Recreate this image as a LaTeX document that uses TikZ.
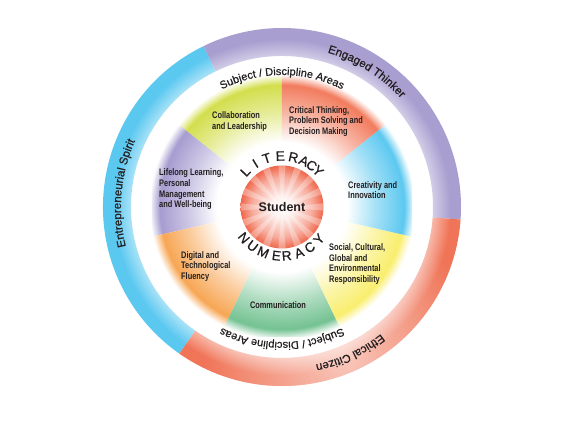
\documentclass[tikz,border=0pt]{standalone}
\usepackage{fontspec}
\setmainfont{Liberation Sans}
\newfontfamily\narrowfont[FakeStretch=0.78]{Liberation Sans}
\newfontfamily\medfont[FakeBold=0.7]{Liberation Sans}
\usetikzlibrary{decorations.text,fadings}

\definecolor{textdark}{HTML}{231F20}
\definecolor{ringblue}{HTML}{5BC8F0}
\definecolor{ringpurple}{HTML}{A89ED0}
\definecolor{ringred}{HTML}{F07558}
\definecolor{wedgelime}{HTML}{D3DE4C}
\definecolor{wedgesalmon}{HTML}{F27C5E}
\definecolor{wedgesky}{HTML}{5CC8F0}
\definecolor{wedgeyellow}{HTML}{F9EE6E}
\definecolor{wedgegreen}{HTML}{74C292}
\definecolor{wedgeorange}{HTML}{F7A654}
\definecolor{wedgelavender}{HTML}{A69CD0}
\definecolor{studentred}{HTML}{EE5A3C}

\colorlet{wedgecol}{white}
\colorlet{ringcol}{white}
% half the box of a shaded path is 25bp
\pgfdeclareradialshading[wedgecol]{wedgefade}{\pgfpoint{0bp}{0bp}}{%
  color(0bp)=(white); color(12.5bp)=(white); color(18bp)=(wedgecol!55!white);
  color(23.5bp)=(wedgecol); color(25.5bp)=(white); color(50bp)=(white)}
\pgfdeclareradialshading[ringcol]{ringfade}{\pgfpoint{0bp}{0bp}}{%
  color(0bp)=(white); color(21bp)=(ringcol!50!white); color(23.5bp)=(ringcol);
  color(25bp)=(ringcol); color(50bp)=(ringcol)}
\pgfdeclareradialshading{studentfade}{\pgfpoint{0bp}{0bp}}{%
  color(0bp)=(white); color(7bp)=(studentred!10!white);
  color(18bp)=(studentred!50!white); color(25bp)=(studentred!92!white);
  color(50bp)=(studentred)}
\tikzfading[name=softspot, inner color=transparent!0, outer color=transparent!100]

\newcommand\subjfont{\medfont\fontsize{11}{11}\selectfont\color{textdark}}
\newcommand\ringfont{\medfont\fontsize{11.5}{11.5}\selectfont\color{textdark}}

\begin{document}
\begin{tikzpicture}[x=1pt,y=1pt,
    sectorlabel/.style={font=\narrowfont\bfseries\fontsize{9.5}{10.7}\selectfont,
      text=textdark, align=left, anchor=west, inner sep=0pt},
    circletext/.style={font=\medfont\fontsize{13.5}{13.5}\selectfont, text=textdark, inner sep=0pt}]
  \useasboundingbox (-282,-220) rectangle (280,207);
  \fill[white] (-282,-220) rectangle (280,207);

  % Outer ring
  \foreach \col/\from/\to in {ringblue/116/235, ringpurple/-4/116, ringred/235/356} {
    \colorlet{ringcol}{\col}
    \begin{scope}
      \clip (\from:179) arc[start angle=\from, end angle=\to, radius=179]
        -- (\to:151) arc[start angle=\to, end angle=\from, radius=151] -- cycle;
      \shade[shading=ringfade] (-179,-179) rectangle (179,179);
    \end{scope}
  }
  % lighter part of the red ring
  \begin{scope}
    \clip (235:179) arc[start angle=235, end angle=356, radius=179]
      -- (356:151) arc[start angle=356, end angle=235, radius=151] -- cycle;
    \fill[white, opacity=.6, path fading=softspot] (-68:165) circle (140);
  \end{scope}

  % Coloured wedges
  \foreach \col/\from in {wedgelime/90, wedgelavender/141.43, wedgeorange/192.86,
      wedgegreen/244.29, wedgeyellow/295.71, wedgesky/347.14, wedgesalmon/38.57} {
    \colorlet{wedgecol}{\col}
    \begin{scope}
      \clip (0,0) -- (\from:140) arc[start angle=\from, delta angle=51.43, radius=140] -- cycle;
      \shade[shading=wedgefade] (-130,-130) rectangle (130,130);
    \end{scope}
  }
  \fill[white] (0,0) circle (58);

  % Student
  \shade[shading=studentfade] (0,0) circle (41.5);
  \foreach \a in {0,22.5,...,337.5}
    \fill[white, opacity=.3] (0,0) -- (\a-5:41.5)
      arc[start angle=\a-5, end angle=\a+5, radius=41.5] -- cycle;
  \node[font=\bfseries\fontsize{12.5}{12.5}\selectfont, text=textdark] (student) at (0,0) {Student};

  % Literacy / Numeracy
  \foreach \ch/\ang [count=\i] in {L/136, I/121.5, T/107.5, E/92, R/77, A/64.5, C/54.5, Y/45}
    \node[circletext, rotate=\ang-90] (lit\i) at (\ang:51) {\ch};
  \foreach \ch/\ang [count=\i] in {N/219, U/233, M/247.5, E/263.5, R/275.5, A/290.5, C/304.5, Y/319}
    \node[circletext, rotate=\ang+90] (num\i) at (\ang:49) {\ch};

  % Subject / Discipline Areas
  \path[decorate, decoration={text along path, text align=center,
      text={|\subjfont|Subject / Discipline Areas}}]
    (130:132) arc[start angle=130, end angle=50, radius=132];
  \path[decorate, decoration={text along path, text align=center,
      text={|\subjfont|Subject / Discipline Areas}}]
    (310:135) arc[start angle=310, end angle=230, radius=135];

  % Ring labels
  \path[decorate, decoration={text along path, text align=center,
      text={|\ringfont|Engaged Thinker}}]
    (98:161) arc[start angle=98, end angle=18, radius=161];
  \path[decorate, decoration={text along path, text align=center,
      text={|\ringfont|Ethical Citizen}}]
    (-25:161) arc[start angle=-25, end angle=-105, radius=161];
  \path[decorate, decoration={text along path, text align=center,
      text={|\ringfont|Entrepreneurial Spirit}}]
    (225:161) arc[start angle=225, end angle=125, radius=161];

  % Wedge labels
  \node[sectorlabel] (collab) at (-70,85.5) {Collaboration\\and Leadership};
  \node[sectorlabel] (critical) at (7,85.5) {Critical Thinking,\\Problem Solving and\\Decision Making};
  \node[sectorlabel] (lifelong) at (-123,17.7) {Lifelong Learning,\\Personal\\Management\\and Well-being};
  \node[sectorlabel] (creative) at (66,16.8) {Creativity and\\Innovation};
  \node[sectorlabel] (social) at (47,-57) {Social, Cultural,\\Global and\\Environmental\\Responsibility};
  \node[sectorlabel] (digital) at (-101,-59.3) {Digital and\\Technological\\Fluency};
  \node[sectorlabel, anchor=center] (comm) at (-4,-98.5) {Communication};
\end{tikzpicture}
\end{document}
